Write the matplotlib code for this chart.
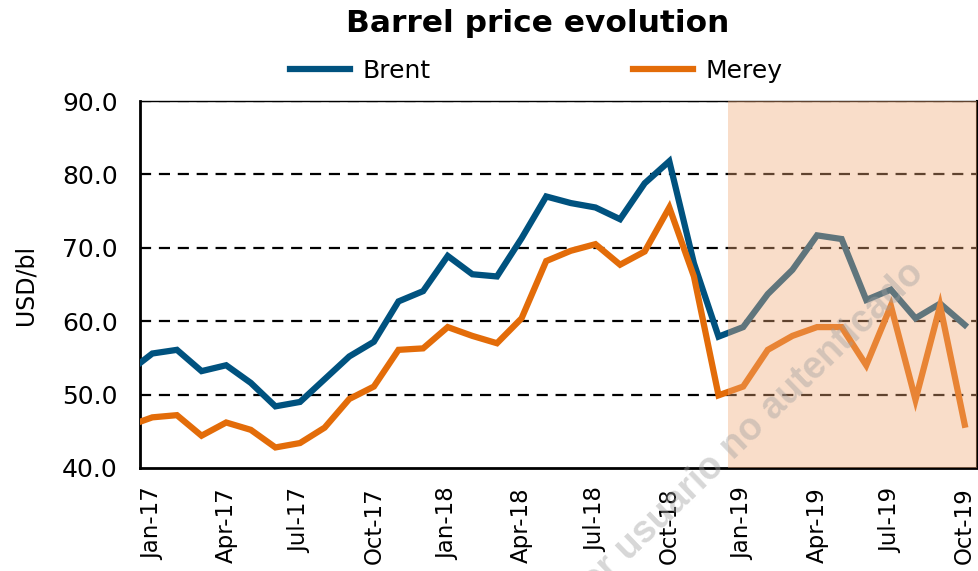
import numpy as np
import matplotlib
matplotlib.use("Agg")
import matplotlib.pyplot as plt

# monthly averages, Dec-16 .. Oct-19 (Dec-16 only shows as the clipped line start)
months = [
    "Dec-16",
    "Jan-17", "Feb-17", "Mar-17", "Apr-17", "May-17", "Jun-17",
    "Jul-17", "Aug-17", "Sep-17", "Oct-17", "Nov-17", "Dec-17",
    "Jan-18", "Feb-18", "Mar-18", "Apr-18", "May-18", "Jun-18",
    "Jul-18", "Aug-18", "Sep-18", "Oct-18", "Nov-18", "Dec-18",
    "Jan-19", "Feb-19", "Mar-19", "Apr-19", "May-19", "Jun-19",
    "Jul-19", "Aug-19", "Sep-19", "Oct-19",
]
brent = [53.0, 55.6, 56.1, 53.2, 54.0, 51.6, 48.4, 49.0, 52.1, 55.2, 57.2, 62.7,
         64.1, 68.9, 66.4, 66.1, 71.3, 77.0, 76.1, 75.5, 73.9, 78.8, 81.8, 67.9,
         57.9, 59.2, 63.7, 67.0, 71.7, 71.2, 62.9, 64.3, 60.4, 62.4, 59.5]
merey = [45.7, 46.9, 47.2, 44.4, 46.2, 45.2, 42.8, 43.4, 45.5, 49.4, 51.1, 56.1,
         56.3, 59.2, 58.0, 57.0, 60.4, 68.2, 69.6, 70.5, 67.7, 69.5, 75.5, 66.1,
         49.9, 51.1, 56.1, 58.0, 59.2, 59.2, 54.0, 62.1, 49.3, 62.1, 45.9]
tick_labels = ["Jan-17", "Apr-17", "Jul-17", "Oct-17", "Jan-18", "Apr-18",
               "Jul-18", "Oct-18", "Jan-19", "Apr-19", "Jul-19", "Oct-19"]
shade_from = "Jan-19"

BRENT_COLOR = "#00527F"
MEREY_COLOR = "#E36C09"

# the source text is a horizontally stretched Arial; DejaVu's wider glyphs fit it best
plt.rcParams["font.family"] = "DejaVu Sans"

x = np.arange(len(months)) - 1  # Jan-17 -> 0
pos = {m: i for m, i in zip(months, x)}

fig = plt.figure(figsize=(9.79, 5.71), dpi=100)
ax = fig.add_axes([0.143, 0.1804, 0.855, 0.6426])

ax.plot(x, brent, color=BRENT_COLOR, lw=4.5, solid_joinstyle="miter", label="Brent", zorder=3)
ax.plot(x, merey, color=MEREY_COLOR, lw=4.5, solid_joinstyle="miter", label="Merey", zorder=3)

# shaded block drawn over the lines
ax.axvspan(pos[shade_from] - 0.6, 33.5, color="#F2AA78", alpha=0.4, lw=0, zorder=4)

ax.set_xlim(-0.5, 33.5)
ax.set_ylim(40, 90)
ax.set_yticks(np.arange(40, 91, 10))
ax.set_yticklabels([f"{v:.1f}" for v in np.arange(40, 91, 10)], fontsize=18)
ax.set_xticks([pos[t] for t in tick_labels])
ax.set_xticklabels(tick_labels, rotation=90, fontsize=16.5)
ax.tick_params(axis="both", length=0)
ax.tick_params(axis="y", pad=16)
ax.tick_params(axis="x", pad=14)
ax.set_ylabel("USD/bl", fontsize=17, labelpad=18)

for v in [50, 60, 70, 80, 90]:
    ax.axhline(v, color="black", lw=1.6, ls=(0, (5, 3.5)), zorder=2)

for side in ["left", "bottom"]:
    ax.spines[side].set_linewidth(2)
ax.spines["top"].set_linewidth(1)
ax.spines["right"].set_linewidth(1.5)

fig.text(0.549, 0.958, "Barrel price evolution", ha="center", va="center",
         fontsize=22.5, fontweight="bold")

fig.legend(loc="center", bbox_to_anchor=(0.548, 0.876), ncol=2, frameon=False,
           fontsize=18, handlelength=2.4, handletextpad=0.5, columnspacing=8.1)

# watermark
fig.text(0.945, 0.518, "Documento descargado por usuario no autenticado",
         rotation=44, rotation_mode="anchor", ha="right", va="baseline",
         fontsize=27, fontweight="bold", color="#a0a0a0", alpha=0.42, zorder=10,
         family="Liberation Sans")

fig.savefig("out.png", dpi=100)
